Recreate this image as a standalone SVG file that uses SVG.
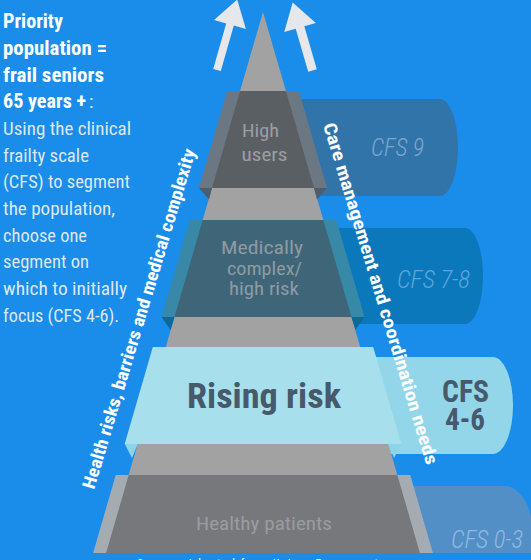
<svg xmlns="http://www.w3.org/2000/svg" width="531" height="560" viewBox="0 0 531 560">
<style>
text{font-family:"Roboto Condensed","Liberation Sans Narrow",Roboto,"Liberation Sans",sans-serif}
.b{font-weight:700}
.intro{font-size:20px;fill:#ffffff;font-weight:700}
.introR{font-size:19px;fill:#dde8f2;font-weight:400}
.lbl{font-size:19px;text-anchor:middle}
.cfs{font-size:26px;font-style:italic;font-weight:300;text-anchor:middle}
.side{font-size:18px;font-weight:700;fill:#ffffff}
</style>
<rect width="531" height="560" fill="#1a8ce9"/>

<g id="tab-cfs9">
<path d="M290 99 H440 A18 48.5 0 0 1 440 196 H290 Z" fill="#3174a9"/>
<text class="cfs" x="397.5" y="156" fill="#7ea6cd" textLength="53" lengthAdjust="spacingAndGlyphs">CFS 9</text>
</g>
<g id="tab-cfs78">
<path d="M320 228 H465 A18 48 0 0 1 465 324 H320 Z" fill="#0b78bc"/>
<text class="cfs" x="433.5" y="288" fill="#5ea5d8" textLength="73" lengthAdjust="spacingAndGlyphs">CFS 7-8</text>
</g>
<g id="tab-cfs46">
<path d="M360 357 H493 A20 48.5 0 0 1 493 454 H360 Z" fill="#93d6ea"/>
<text class="lbl b" x="465.5" y="402" fill="#465a6b" style="font-size:31px" textLength="47" lengthAdjust="spacingAndGlyphs">CFS</text>
<text class="lbl b" x="465" y="430" fill="#465a6b" style="font-size:31px" textLength="40" lengthAdjust="spacingAndGlyphs">4-6</text>
</g>
<g id="tab-cfs03">
<path d="M380 486 H505 A28 48.5 0 0 1 505 583 H380 Z" fill="#528fc7"/>
<text class="cfs" x="487" y="548" fill="#93b8de" textLength="72" lengthAdjust="spacingAndGlyphs">CFS 0-3</text>
</g>

<g id="pyramid">
<polygon points="263,12 420,553 106,553" fill="#a2a2a2"/>
</g>

<g id="band-high-users">
<polygon points="227.1,91 298.9,91 327,188 199,188" fill="#6b7782"/>
<polygon points="240.1,91 285.9,91 314,188 212,188" fill="#5a5f64"/>
<polygon points="199,188 212,188 209,199.5" fill="#4e5d6b"/>
<polygon points="327,188 314,188 317,199.5" fill="#4e5d6b"/>
<text class="lbl" x="260.5" y="136.7" fill="#9a9ea3" textLength="37" lengthAdjust="spacingAndGlyphs">High</text>
<text class="lbl" x="264.5" y="161" fill="#9a9ea3" textLength="46" lengthAdjust="spacingAndGlyphs">users</text>
</g>

<g id="band-medically-complex">
<polygon points="189.7,220 336.3,220 364.5,317 161.5,317" fill="#3889a8"/>
<polygon points="202.7,220 323.3,220 351.5,317 174.5,317" fill="#3e6678"/>
<polygon points="161.5,317 174.5,317 170.5,330" fill="#0d6a98"/>
<polygon points="364.5,317 351.5,317 355.5,330" fill="#0d6a98"/>
<text class="lbl" x="262" y="254" fill="#8e9aa4" textLength="82" lengthAdjust="spacingAndGlyphs">Medically</text>
<text class="lbl" x="264.5" y="274.5" fill="#8e9aa4" textLength="75" lengthAdjust="spacingAndGlyphs">complex/</text>
<text class="lbl" x="264" y="295" fill="#8e9aa4" textLength="70" lengthAdjust="spacingAndGlyphs">high risk</text>
</g>

<g id="band-rising-risk">
<polygon points="124.7,444 137.7,444 132,458" fill="#8cd3ec"/>
<polygon points="401.3,444 388.3,444 394,458" fill="#8cd3ec"/>
<polygon points="152.8,347 373.2,347 401.3,444 124.7,444" fill="#a7dfed"/>
<text class="lbl b" x="264" y="408" fill="#465a6b" style="font-size:35px" textLength="154" lengthAdjust="spacingAndGlyphs">Rising risk</text>
</g>

<g id="band-healthy">
<polygon points="115.7,475 410.3,475 432.9,553 93.1,553" fill="#a4abb1"/>
<polygon points="128.7,475 397.3,475 419.9,553 106.1,553" fill="#76787c"/>
<text class="lbl" x="264" y="530" fill="#9a9ca0" textLength="136" lengthAdjust="spacingAndGlyphs">Healthy patients</text>
</g>

<g id="label-health-risks">
<text class="side" transform="translate(94,490) rotate(-73.3)" textLength="354" lengthAdjust="spacingAndGlyphs">Health risks, barriers and medical complexity</text>
</g>
<g id="label-care-management">
<text class="side" transform="translate(323,125) rotate(73.1)" textLength="356" lengthAdjust="spacingAndGlyphs">Care management and coordination needs</text>
</g>

<g id="intro-text">
<text class="intro" x="3" y="28" textLength="60" lengthAdjust="spacingAndGlyphs">Priority</text>
<text class="intro" x="3" y="55" textLength="104" lengthAdjust="spacingAndGlyphs">population =</text>
<text class="intro" x="3" y="82" textLength="101" lengthAdjust="spacingAndGlyphs">frail seniors</text>
<text class="intro" x="3" y="108" textLength="83" lengthAdjust="spacingAndGlyphs">65 years +</text>
<text class="introR" x="89" y="108">:</text>
<text class="introR" x="3" y="135" textLength="128" lengthAdjust="spacingAndGlyphs">Using the clinical</text>
<text class="introR" x="3" y="162" textLength="86" lengthAdjust="spacingAndGlyphs">frailty scale</text>
<text class="introR" x="3" y="188" textLength="127" lengthAdjust="spacingAndGlyphs">(CFS) to segment</text>
<text class="introR" x="3" y="215" textLength="112" lengthAdjust="spacingAndGlyphs">the population,</text>
<text class="introR" x="3" y="242" textLength="84" lengthAdjust="spacingAndGlyphs">choose one</text>
<text class="introR" x="3" y="268" textLength="86" lengthAdjust="spacingAndGlyphs">segment on</text>
<text class="introR" x="3" y="295" textLength="124" lengthAdjust="spacingAndGlyphs">which to initially</text>
<text class="introR" x="3" y="322" textLength="116" lengthAdjust="spacingAndGlyphs">focus (CFS 4-6).</text>
</g>

<g id="connectors">
<polygon points="213.2,68.9 226.2,23.4 214.1,20 237.2,-0.5 245.9,29 233.8,25.6 220.8,71.1" fill="#e5e7ea"/>
<polygon points="308.2,71.8 295.7,28.8 284.2,32.1 292.7,2.5 315.8,22.9 304.3,26.2 316.8,69.2" fill="#e5e7ea"/>
</g>

<g id="source">
<rect x="0" y="553" width="531" height="7" fill="#1a8ce9"/>
<text x="137" y="568" style="font-size:12px" fill="#ffffff" textLength="248" lengthAdjust="spacing">Source: Adapted from Kaiser Permanente</text>
</g>
</svg>
